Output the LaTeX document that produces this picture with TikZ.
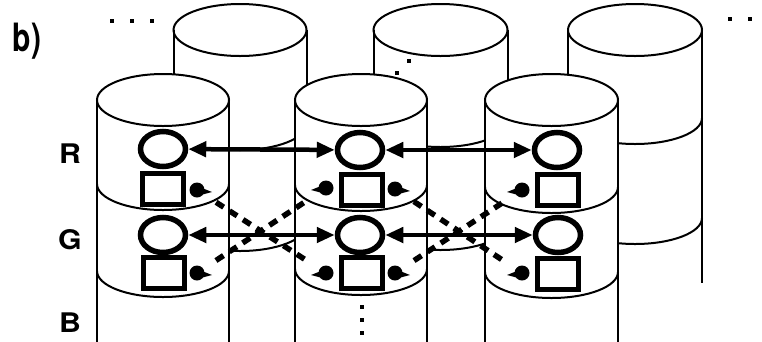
\documentclass[tikz,border=0pt]{standalone}
\usepackage{fontspec}
\setmainfont{TeX Gyre Heros}
\usetikzlibrary{arrows.meta,shapes.geometric}

% cylinder body: centre x, top-ellipse centre y, bottom y, x radius, y radius
\newcommand\cylbody[5]{%
  \fill[white] (#1-#4,#2) -- (#1-#4,#3) -- (#1+#4,#3) -- (#1+#4,#2)
    arc[start angle=0,end angle=-180,x radius=#4,y radius=#5] -- cycle;
  \draw[cylline] (#1,#2) ellipse[x radius=#4,y radius=#5];
  \draw[cylline] (#1-#4,#2) -- (#1-#4,#3) (#1+#4,#2) -- (#1+#4,#3);
}
% lower half of a layer boundary: centre x, centre y, x radius, y radius
\newcommand\cylband[4]{%
  \draw[cylline] (#1+#3,#2) arc[start angle=0,end angle=180,x radius=#3,y radius=#4];
}

\begin{document}
\begin{tikzpicture}[x=1pt,y=-1pt,
  cylline/.style={line width=2pt},
  ring/.style={draw,ellipse,line width=5.5pt,minimum width=45pt,minimum height=35pt,inner sep=0pt},
  cell/.style={draw,rectangle,line width=5.5pt,minimum width=41pt,minimum height=31pt,inner sep=0pt},
  ball/.style={fill,circle,minimum size=15pt,inner sep=0pt},
  pt/.style={fill,rectangle,minimum size=4pt,inner sep=0pt},
  link/.style={line width=4.5pt,{Triangle[length=18pt,width=15pt]}-{Triangle[length=18pt,width=15pt]}},
  cross/.style={line width=5.5pt,dash pattern=on 9pt off 7pt,shorten <=15pt,shorten >=15pt},
  lab/.style={font=\bfseries\fontsize{27}{27}\selectfont,inner sep=0pt,xscale=1.12}]
\useasboundingbox (0,0) rectangle (762,341);
\begin{scope}
\clip (0,0) rectangle (762,341);

% rear row of cylinders
\cylbody{240}{30}{283}{66.5}{26}
\cylband{240}{124}{66.5}{26}
\cylband{240}{225}{66.5}{26}
\cylbody{440.5}{30}{283}{67}{26}
\cylband{440.5}{121}{67}{26}
\cylband{440.5}{224}{67}{26}
\cylbody{635}{30}{283}{67}{26}
\cylband{635}{118}{67}{26}
\cylband{635}{218}{67}{26}

% front row of cylinders
\cylbody{163}{100}{345}{66}{26}
\cylband{163}{184}{66}{26}
\cylband{163}{271}{66}{26}
\cylbody{361}{100}{345}{66}{26}
\cylband{361}{185}{66}{26}
\cylband{361}{269}{66}{26}
\cylbody{551.5}{100}{345}{66.5}{26}
\cylband{551.5}{187}{66.5}{26}
\cylband{551.5}{272}{66.5}{26}
\end{scope}

% circles and squares on each front cylinder
\node[ring] (c1R) at (163,149) {};
\node[cell] (s1R) at (163,189) {};
\node[ring] (c1G) at (163,235) {};
\node[cell] (s1G) at (164,273) {};
\node[ring] (c2R) at (360,150) {};
\node[cell] (s2R) at (362,190) {};
\node[ring] (c2G) at (360,235) {};
\node[cell] (s2G) at (362,273) {};
\node[ring] (c3R) at (557,150) {};
\node[cell] (s3R) at (558,190) {};
\node[ring] (c3G) at (558,235) {};
\node[cell] (s3G) at (558,274) {};

% black pins beside the squares
\node[ball] (b1Rr) at (197,190) {};
\node[ball] (b1Gr) at (197,273) {};
\node[ball] (b2Rl) at (326,188) {};
\node[ball] (b2Gl) at (326,273) {};
\node[ball] (b2Rr) at (395,189) {};
\node[ball] (b2Gr) at (395,273) {};
\node[ball] (b3Rl) at (522,190) {};
\node[ball] (b3Gl) at (522,273) {};
\foreach \b in {b1Rr,b1Gr,b2Rr,b2Gr}
  \fill (\b.center) ++(0,-4) -- ++(15,6) -- ++(-15,4) -- cycle;
\foreach \b in {b2Rl,b2Gl,b3Rl,b3Gl}
  \fill (\b.center) ++(0,-4) -- ++(-15,6) -- ++(15,4) -- cycle;

% crossing dashed links between the squares
\draw[cross] (b1Rr) -- (b2Gl);
\draw[cross] (b1Gr) -- (b2Rl);
\draw[cross] (b2Rr) -- (b3Gl);
\draw[cross] (b2Gr) -- (b3Rl);

% double arrows between the circles
\draw[link] (c1R) -- (c2R);
\draw[link] (c2R) -- (c3R);
\draw[link] (c1G) -- (c2G);
\draw[link] (c2G) -- (c3G);

% labels
\node[lab,font=\bfseries\fontsize{30}{30}\selectfont,xscale=1/1.12,yscale=1.3] (tag) at (27,41) {b)};
\node[lab] (lR) at (70,154) {R};
\node[lab] (lG) at (70,240) {G};
\node[lab] (lB) at (70,323) {B};

% continuation dots
\foreach \p [count=\i] in {(111.7,20.7),(131.7,20.7),(151.7,20.7),(730,19),(750,19),(409,61),(397,73),(362,307),(362,320),(362,332.5)}
  \node[pt] (e\i) at \p {};
\end{tikzpicture}
\end{document}
